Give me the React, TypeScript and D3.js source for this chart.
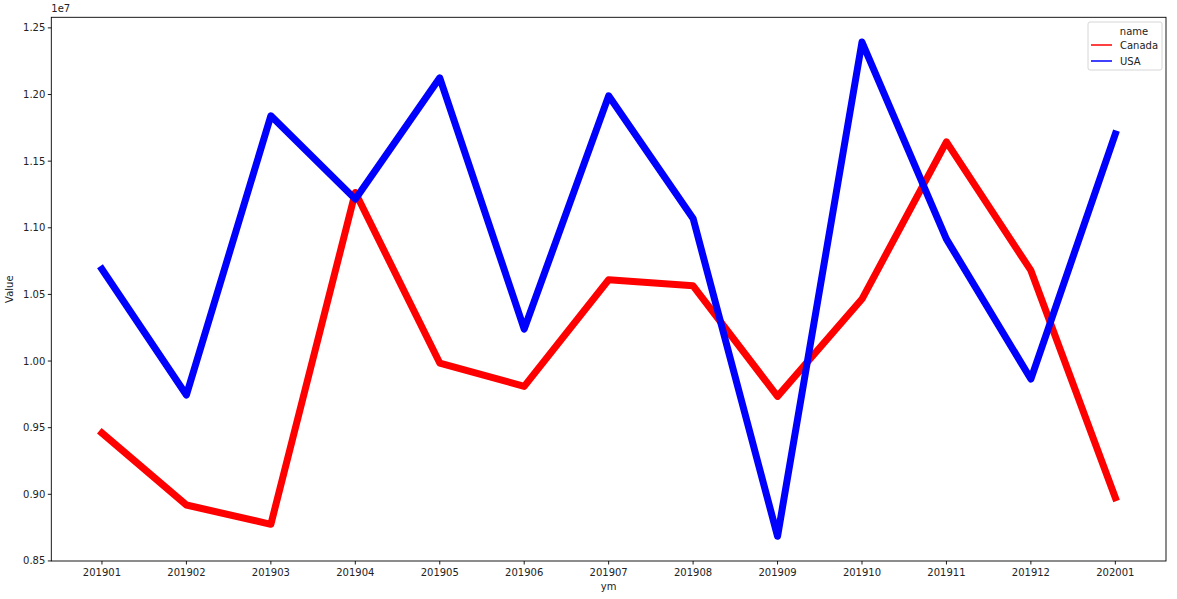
import React, { FC, useMemo } from "react";
import * as d3 from "d3";

// values
const months = [
    "201901", "201902", "201903", "201904", "201905", "201906", "201907",
    "201908", "201909", "201910", "201911", "201912", "202001",
];
const canada = [
    9460000, 8920000, 8775000, 11265000, 9985000, 9810000, 10610000,
    10565000, 9735000, 10465000, 11645000, 10680000, 8975000,
];
const usa = [
    10690000, 9745000, 11840000, 11215000, 12125000, 10240000, 11990000,
    11070000, 8685000, 12394000, 10915000, 9865000, 11705000,
];
const yTicks = [0.85, 0.9, 0.95, 1.0, 1.05, 1.1, 1.15, 1.2, 1.25];

const series = [
    { name: "Canada", values: canada, color: "#ff0000" },
    { name: "USA", values: usa, color: "#0000ff" },
];

const width = 1177;
const height = 599;
const margin = { top: 17.3, right: 11, bottom: 38, left: 51.3 };
const font = "'DejaVu Sans', sans-serif";

const App: FC = () => {
    const innerW = width - margin.left - margin.right;
    const innerH = height - margin.top - margin.bottom;

    const x = useMemo(() => {
        const n = months.length - 1;
        return d3
            .scaleLinear()
            .domain([-0.05 * n, n + 0.05 * n])
            .range([0, innerW]);
    }, [innerW]);

    const y = useMemo(() => {
        const all = [...canada, ...usa];
        const lo = d3.min(all) as number;
        const hi = d3.max(all) as number;
        const pad = (hi - lo) * 0.05;
        return d3
            .scaleLinear()
            .domain([lo - pad, hi + pad])
            .range([innerH, 0]);
    }, [innerH]);

    const line = d3
        .line<number>()
        .x((_, i) => x(i))
        .y((d) => y(d));

    return (
        <svg
            width={width}
            height={height}
            style={{ position: "absolute", top: 0, left: 0, background: "#fff" }}
            fontFamily={font}
        >
            <g transform={`translate(${margin.left},${margin.top})`}>
                {series.map((s) => (
                    <path
                        key={s.name}
                        d={line(s.values) as string}
                        fill="none"
                        stroke={s.color}
                        strokeWidth={7}
                        strokeLinejoin="round"
                        strokeLinecap="square"
                    />
                ))}

                {/* frame */}
                <rect
                    width={innerW}
                    height={innerH}
                    fill="none"
                    stroke="#000"
                    strokeWidth={0.9}
                />

                {/* y axis */}
                {yTicks.map((t) => (
                    <g key={t} transform={`translate(0,${y(t * 1e7)})`}>
                        <line x1={-3.5} x2={0} stroke="#000" strokeWidth={0.9} />
                        <text
                            x={-6}
                            dy="0.35em"
                            textAnchor="end"
                            fontSize={10}
                            fill="#222"
                        >
                            {t.toFixed(2)}
                        </text>
                    </g>
                ))}
                <text x={0} y={-5} fontSize={10} fill="#222">
                    1e7
                </text>
                <text
                    transform={`translate(${-38},${innerH / 2}) rotate(-90)`}
                    textAnchor="middle"
                    fontSize={10}
                    fill="#222"
                >
                    Value
                </text>

                {/* x axis */}
                {months.map((m, i) => (
                    <g key={m} transform={`translate(${x(i)},${innerH})`}>
                        <line y1={0} y2={3.5} stroke="#000" strokeWidth={0.9} />
                        <text
                            y={14.5}
                            textAnchor="middle"
                            fontSize={10}
                            fill="#222"
                        >
                            {m}
                        </text>
                    </g>
                ))}
                <text
                    x={innerW / 2}
                    y={innerH + 29}
                    textAnchor="middle"
                    fontSize={10}
                    fill="#222"
                >
                    ym
                </text>

                {/* legend */}
                <g transform={`translate(${1088 - margin.left},${22 - margin.top})`}>
                    <rect
                        width={74}
                        height={48}
                        rx={2}
                        fill="#fff"
                        fillOpacity={0.8}
                        stroke="#ccc"
                        strokeWidth={0.8}
                    />
                    <text x={46} y={13} textAnchor="middle" fontSize={10} fill="#222">
                        name
                    </text>
                    {series.map((s, i) => (
                        <g key={s.name} transform={`translate(0,${23 + i * 16})`}>
                            <line
                                x1={3}
                                x2={24}
                                stroke={s.color}
                                strokeOpacity={0.75}
                                strokeWidth={2}
                            />
                            <text x={32} dy="0.35em" fontSize={10} fill="#222">
                                {s.name}
                            </text>
                        </g>
                    ))}
                </g>
            </g>
        </svg>
    );
};

export default App;
